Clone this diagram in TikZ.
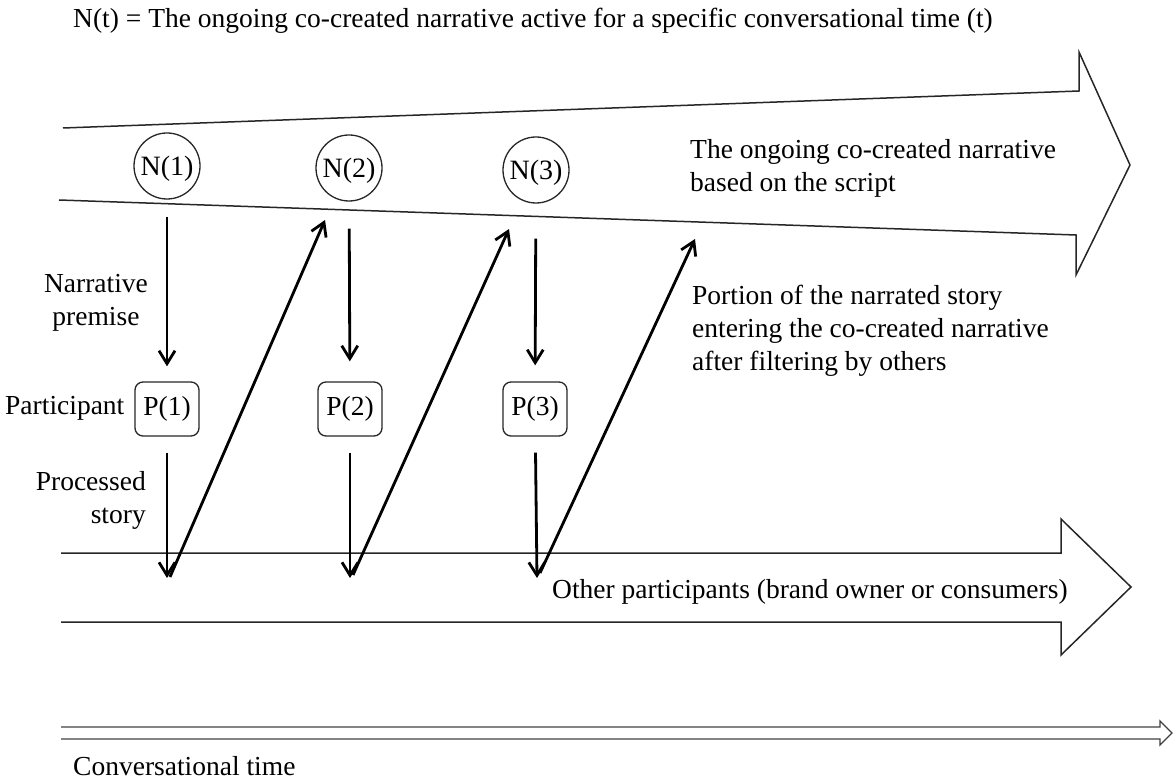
\documentclass[tikz,border=0pt]{standalone}
\usepackage{fontspec}
\setmainfont{Liberation Serif}
\usetikzlibrary{arrows.meta}
\begin{document}
\begin{tikzpicture}[x=1pt,y=-1pt,
  font=\fontsize{27.5}{33}\selectfont,
  band/.style={line width=1.5pt, line join=miter, draw=black!85},
  nnode/.style={circle, draw=black!85, line width=1.3pt, minimum size=66pt, inner sep=0pt, text height=22pt, text depth=3pt, font=\fontsize{28}{33}\selectfont},
  pnode/.style={rectangle, rounded corners=8pt, draw=black!85, line width=1.3pt, minimum width=64pt, minimum height=54pt, inner sep=0pt},
  lbl/.style={inner sep=0pt},
  flow/.style={line width=2.8pt, -{Straight Barb[length=13pt,width=16pt,line width=2.8pt]}}]
\useasboundingbox (0,0) rectangle (1173,783);

% bands
\draw[band] (63,128) -- (1079,91) -- (1079,52) -- (1130,165) -- (1076,275) -- (1076,235) -- (59,200);
\draw[band] (61,553) -- (1061,553) -- (1061,519) -- (1131,587) -- (1061,655) -- (1061,622) -- (61,622);
\draw[line width=1.3pt, draw=black!75, line join=miter] (61,727) -- (1160,727) -- (1160,721) -- (1172,733) -- (1160,745) -- (1160,739) -- (61,739);

% nodes
\node[nnode] (N1) at (167,166) {N(1)};
\node[nnode] (N2) at (349,168) {N(2)};
\node[nnode] (N3) at (536,170) {N(3)};
\node[pnode] (P1) at (167,409) {P(1)};
\node[pnode] (P2) at (350,409) {P(2)};
\node[pnode] (P3) at (535,409) {P(3)};

% coordinates
\coordinate (o1) at (167,578);
\coordinate (o2) at (350,578);
\coordinate (o3) at (537,578);
\coordinate (d1a) at (170,577);
\coordinate (d1b) at (325,220);
\coordinate (d2a) at (353,575);
\coordinate (d2b) at (509,229);
\coordinate (d3a) at (540,573);
\coordinate (d3b) at (695,239);

% arrows
\draw[flow, shorten <=17pt, shorten >=15pt] (N1) -- (P1);
\draw[flow, shorten <=27pt, shorten >=20pt] (N2) -- (P2);
\draw[flow, shorten <=35pt, shorten >=16pt] (N3) -- (P3);
\draw[flow, shorten <=16pt] (P1) -- (o1);
\draw[flow, shorten <=16pt] (P2) -- (o2);
\draw[flow, shorten <=16pt] (P3) -- (o3);
\draw[flow] (d1a) -- (d1b);
\draw[flow] (d2a) -- (d2b);
\draw[flow] (d3a) -- (d3b);

% labels
\node[lbl, anchor=base west] (title) at (73,28) {N(t) = The ongoing co-created narrative active for a specific conversational time (t)};
\node[lbl, anchor=base west] (narr) at (690,159) {\begin{tabular}[t]{@{}l@{}}The ongoing co-created narrative\\based on the script\end{tabular}};
\node[lbl, anchor=base west] (portion) at (692,305) {\begin{tabular}[t]{@{}l@{}}Portion of the narrated story\\entering the co-created narrative\\after filtering by others\end{tabular}};
\node[lbl, anchor=base] (premise) at (96,293) {\begin{tabular}[t]{@{}c@{}}Narrative\\premise\end{tabular}};
\node[lbl, anchor=base west] (particip) at (5,415) {Participant};
\node[lbl, anchor=base east] (processed) at (146,490) {\begin{tabular}[t]{@{}r@{}}Processed\\story\end{tabular}};
\node[lbl, anchor=base west] (others) at (552,598) {Other participants (brand owner or consumers)};
\node[lbl, anchor=base west] (ctime) at (73,775) {Conversational time};
\end{tikzpicture}
\end{document}
